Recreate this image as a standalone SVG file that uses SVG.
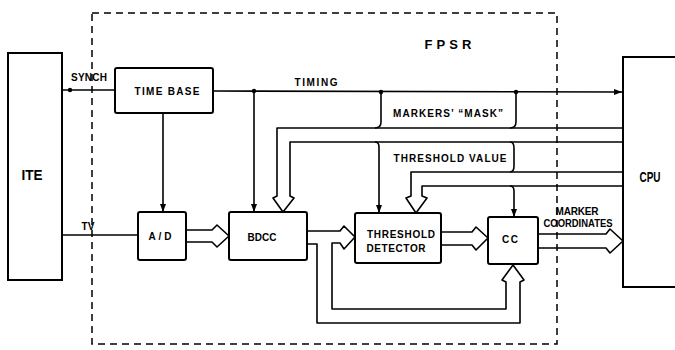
<svg xmlns="http://www.w3.org/2000/svg" width="675" height="350" viewBox="0 0 675 350">
<style>
.box{fill:#fff;stroke:#000;stroke-width:2}
.ln{fill:none;stroke:#000;stroke-width:1.6;stroke-linejoin:round}
.dash{fill:none;stroke:#000;stroke-width:1.5;stroke-dasharray:7,5}
.t{font-family:"Liberation Sans",Arial,sans-serif;font-weight:bold;font-size:10px;text-anchor:middle;fill:#000}
.big{font-size:15px}
</style>
<defs>
<marker id="ah" viewBox="0 0 8 6" refX="8" refY="3" markerWidth="8" markerHeight="6" markerUnits="userSpaceOnUse" orient="auto">
<path d="M0,0 L8,3 L0,6 Z" fill="#000"/>
</marker>
</defs>
<rect width="675" height="350" fill="#fff"/>

<g id="fpsr">
<rect class="dash" x="92" y="13" width="465" height="331"/>
<text class="t" x="448" y="49" font-size="13" textLength="47" lengthAdjust="spacing" style="font-size:13px">FPSR</text>
</g>

<g id="connectors">
<!-- SYNCH -->
<path class="ln" d="M62,90 L115,90"/>
<circle cx="70" cy="90" r="2.2"/>
<!-- TV -->
<path class="ln" d="M62,235 L137,235"/>
<!-- timing -->
<path class="ln" d="M213,91 L622,92" marker-end="url(#ah)"/>
<circle cx="254" cy="91" r="2.2"/>
<circle cx="381" cy="92" r="2.2"/>
<circle cx="516" cy="92" r="2.2"/>
<path class="ln" d="M254,91 L254,212" marker-end="url(#ah)"/>
<path class="ln" d="M163,113 L163,212" marker-end="url(#ah)"/>
<!-- markers mask brackets -->
<path class="ln" d="M381,92 L381,122 Q381,128 375,128"/>
<path class="ln" d="M516,92 L516,122 Q516,128 510,128"/>
<!-- mask bus to BDCC -->
<path class="ln" d="M623,128 L277,128 L277,196 L273,198 L283,212 L294,198 L290,196 L290,142 L623,142"/>
<!-- threshold value bracket -->
<path class="ln" d="M510,142 Q514,142 514,148 L514,166 Q514,172 510,172"/>
<!-- branch to threshold detector -->
<path class="ln" d="M375,142 Q379,142 379,147 L379,213" marker-end="url(#ah)"/>
<!-- threshold value bus -->
<path class="ln" d="M623,172 L411,172 L411,196 L406,198 L416,213 L427,198 L422,196 L422,186 L623,186"/>
<!-- branch to CC -->
<path class="ln" d="M510,186 Q514,186 514,191 L514,217" marker-end="url(#ah)"/>
<!-- A/D to BDCC -->
<path class="ln" d="M186,230 L212,230 L217,225 L229,236 L217,247 L212,242 L186,242"/>
<!-- BDCC to TD and CC -->
<path class="ln" d="M307,231 L340,231 L344,226 L355,237 L344,249 L340,243 L332,243 L332,309 L506,309 L506,282 L502,280 L513,265 L524,280 L520,282 L520,323 L317,323 L317,244 L307,244"/>
<!-- TD to CC -->
<path class="ln" d="M441,232 L472,232 L476,227 L488,238 L476,250 L472,245 L441,245"/>
<!-- CC to CPU -->
<path class="ln" d="M538,234 L606,234 L610,229 L623,241 L610,253 L606,248 L538,248"/>
<text class="t" x="89" y="81" textLength="36" lengthAdjust="spacing">SYNCH</text>
<text class="t" x="88" y="230" textLength="13" lengthAdjust="spacing">TV</text>
<text class="t" x="316" y="86" textLength="43" lengthAdjust="spacing">TIMING</text>
<text class="t" x="448" y="117" textLength="110" lengthAdjust="spacing">MARKERS’ “MASK”</text>
<text class="t" x="450" y="162" textLength="113" lengthAdjust="spacing">THRESHOLD VALUE</text>
<text class="t" x="577" y="215" textLength="43" lengthAdjust="spacing">MARKER</text>
<text class="t" x="578" y="227" textLength="69" lengthAdjust="spacingAndGlyphs">COORDINATES</text>
</g>

<g id="ite">
<rect class="box" x="8" y="53" width="54" height="227"/>
<text class="t big" x="32" y="180" textLength="21" lengthAdjust="spacingAndGlyphs">ITE</text>
</g>

<g id="cpu">
<rect class="box" x="623" y="57" width="62" height="230"/>
<text class="t big" x="650" y="182" textLength="21" lengthAdjust="spacingAndGlyphs">CPU</text>
</g>

<g id="timebase">
<rect class="box" x="115" y="68" width="98" height="45" rx="2"/>
<text class="t" x="167" y="95" textLength="65" lengthAdjust="spacing">TIME BASE</text>
</g>

<g id="ad">
<rect class="box" x="138" y="212" width="48" height="48" rx="2"/>
<text class="t" x="160" y="240" textLength="23" lengthAdjust="spacing">A/D</text>
</g>

<g id="bdcc">
<rect class="box" x="229" y="212" width="78" height="48" rx="2"/>
<text class="t" x="262" y="241" textLength="29" lengthAdjust="spacing">BDCC</text>
</g>

<g id="threshold">
<rect class="box" x="355" y="213" width="86" height="50" rx="2"/>
<text class="t" x="401" y="238" textLength="68" lengthAdjust="spacing">THRESHOLD</text>
<text class="t" x="396" y="252" textLength="59" lengthAdjust="spacing">DETECTOR</text>
</g>

<g id="cc">
<rect class="box" x="488" y="217" width="50" height="47" rx="2"/>
<text class="t" x="510" y="243" textLength="16" lengthAdjust="spacing">CC</text>
</g>
</svg>
